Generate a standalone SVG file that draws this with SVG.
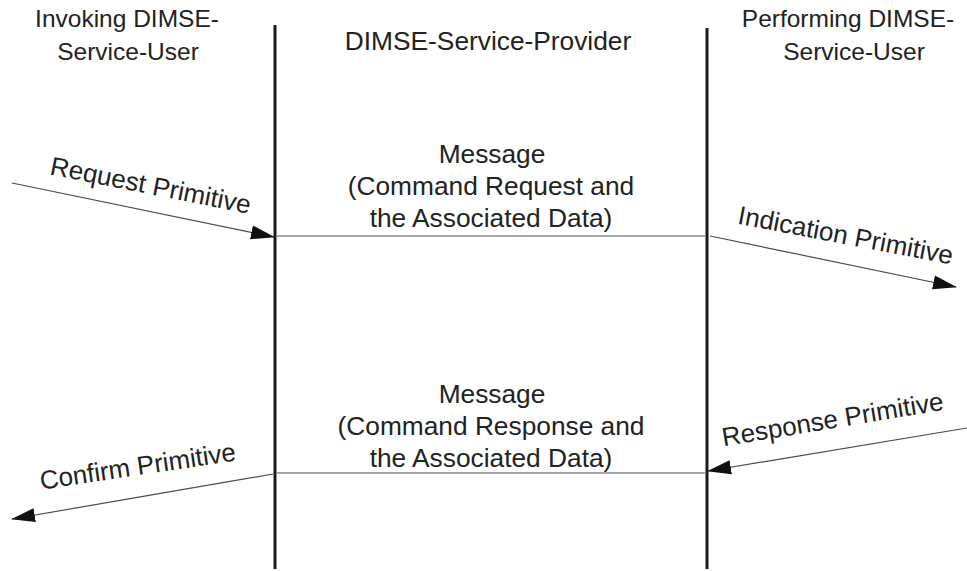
<svg xmlns="http://www.w3.org/2000/svg" width="967" height="571" viewBox="0 0 967 571">
<style>
text{font-family:"Liberation Sans",Arial,sans-serif;fill:#222;}
.hdr{font-size:24.5px;text-anchor:middle;}
.msg{font-size:26.3px;text-anchor:middle;}
.lbl{font-size:26px;text-anchor:middle;}
.life{stroke:#1a1a1a;stroke-width:3;fill:none;}
.mline{stroke:#8a8a8a;stroke-width:1.5;fill:none;}
.arr{stroke:#4a4a4a;stroke-width:1.2;fill:none;marker-end:url(#ah);}
</style>
<defs>
<marker id="ah" markerWidth="24" markerHeight="16" refX="23" refY="8" orient="auto" markerUnits="userSpaceOnUse">
<path d="M0,1 L24,8 L0,15 Z" fill="#111"/>
</marker>
</defs>
<rect width="967" height="571" fill="#fff"/>
<g id="invoking-user">
<text class="hdr" x="127" y="27">Invoking DIMSE-</text>
<text class="hdr" x="128" y="60">Service-User</text>
<line class="life" x1="275" y1="25" x2="275" y2="569"/>
</g>
<g id="provider">
<text class="msg" x="488" y="50">DIMSE-Service-Provider</text>
</g>
<g id="performing-user">
<text class="hdr" x="848" y="27">Performing DIMSE-</text>
<text class="hdr" x="854" y="60">Service-User</text>
<line class="life" x1="707" y1="28" x2="707" y2="569"/>
</g>
<g id="msg-request">
<text class="msg" x="492" y="163">Message</text>
<text class="msg" x="491" y="195">(Command Request and</text>
<text class="msg" x="491" y="227">the Associated Data)</text>
</g>
<g id="msg-response">
<text class="msg" x="492" y="403">Message</text>
<text class="msg" x="491" y="435">(Command Response and</text>
<text class="msg" x="491" y="467">the Associated Data)</text>
</g>
<g id="labels">
<text class="lbl" transform="translate(149,194) rotate(11.2)">Request Primitive</text>
<text class="lbl" transform="translate(844,244) rotate(10.8)">Indication Primitive</text>
<text class="lbl" transform="translate(834,428) rotate(-9.4)">Response Primitive</text>
<text class="lbl" transform="translate(139,475) rotate(-8.5)">Confirm Primitive</text>
</g>
<g id="connectors">
<line class="mline" x1="276" y1="236" x2="706" y2="236"/>
<line class="mline" x1="276" y1="473" x2="706" y2="473"/>
<line class="arr" x1="12" y1="183" x2="274" y2="237"/>
<line class="arr" x1="710" y1="236" x2="956" y2="287"/>
<line class="arr" x1="967" y1="428" x2="708" y2="471"/>
<line class="arr" x1="273" y1="474" x2="12" y2="519"/>
</g>
</svg>
